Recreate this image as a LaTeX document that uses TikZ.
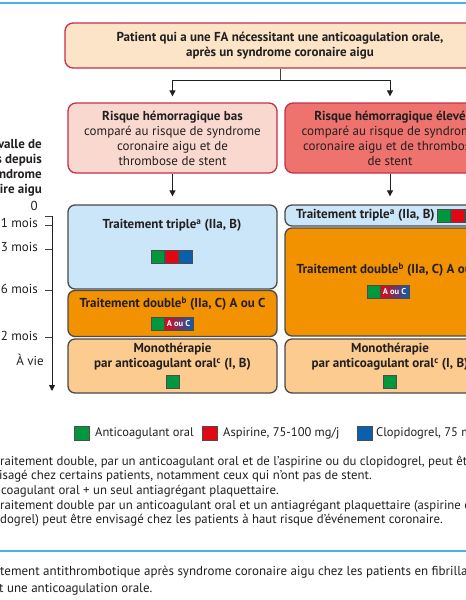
\documentclass[tikz,border=0pt]{standalone}
\usepackage{fontspec}
\setmainfont{PT Sans}
\usetikzlibrary{arrows.meta}
\definecolor{topfill}{HTML}{FCE4C8}
\definecolor{crimson}{HTML}{C5304A}
\definecolor{lowfill}{HTML}{F9D9CF}
\definecolor{highfill}{HTML}{EE736F}
\definecolor{trifill}{HTML}{CBE6F8}
\definecolor{dblfill}{HTML}{F39200}
\definecolor{monofill}{HTML}{FBCB8F}
\definecolor{sqgreen}{HTML}{00973F}
\definecolor{sqred}{HTML}{E30613}
\definecolor{sqblue}{HTML}{0B5FAF}
\definecolor{rule}{HTML}{45B3E6}
\definecolor{boxgrey}{HTML}{4A4A4A}
\definecolor{ink}{HTML}{231F20}
\newcommand\fsMain{\fontsize{13}{15}\selectfont}
\newcommand\fsNote{\fontsize{12.8}{14.5}\selectfont}
\newcommand\fsLeg{\fontsize{12.5}{14.5}\selectfont}
\newcommand\fsCap{\fontsize{13}{14.5}\selectfont}
\begin{document}
\begin{tikzpicture}[x=1pt,y=-1pt,
  every node/.style={text=ink},
  risk/.style={draw=crimson, line width=1.3pt, rounded corners=8pt, align=center, font=\fsMain, inner sep=0pt},
  tbox/.style={draw=boxgrey, line width=1.3pt, rounded corners=7pt, inner sep=0pt},
  txt/.style={inner sep=0pt, anchor=mid, font=\fsMain\bfseries},
  note/.style={inner sep=0pt, anchor=mid west, font=\fsNote},
  leg/.style={inner sep=0pt, anchor=mid west, font=\fsLeg},
  capt/.style={inner sep=0pt, anchor=mid west, font=\fsCap},
  axl/.style={inner sep=0pt, anchor=mid east, font=\fsMain},
  sq/.style={minimum size=13pt, inner sep=0pt, draw=black!70, line width=0.5pt},
  aouc/.style={minimum width=29pt, minimum height=13pt, inner sep=0pt, draw=black!70, line width=0.5pt,
     left color=sqred, right color=sqblue, text=white, font=\fontsize{8.5}{9}\selectfont\bfseries},
  arr/.style={draw=ink, line width=1pt, -{Triangle[length=6pt,width=6pt]}},
  conn/.style={draw=ink!85, line width=1pt},
  blueline/.style={draw=rule, line width=2.5pt}
]
\useasboundingbox (0,0) rectangle (466,600);
\clip (0,0) rectangle (466,600);
\fill[white] (0,0) rectangle (466,600);

% rules
\draw[blueline] (0,3) -- (466,3);
\draw[blueline] (0,551) -- (466,551);

% top box
\node[risk, fill=topfill, minimum width=430pt, minimum height=45pt, font=\fsMain\bfseries] (top) at (280,45.5)
  {Patient qui a une FA nécessitant une anticoagulation orale,\\après un syndrome coronaire aigu};

% risk boxes
\node[risk, fill=lowfill, minimum width=209pt, minimum height=70pt] (low) at (172.5,138)
  {{\bfseries Risque hémorragique bas}\\comparé au risque de syndrome\\coronaire aigu et de\\thrombose de stent};
\node[risk, fill=highfill, minimum width=210pt, minimum height=70pt] (high) at (390,138)
  {{\bfseries Risque hémorragique élevé}\\comparé au risque de syndrome\\coronaire aigu et de thrombose\\de stent};

% connectors top
\coordinate (j) at ([yshift=-12pt]top.south);
\draw[conn] (top.south) -- (j);
\draw[arr, shorten >=6pt] (j) -| (low.north);
\draw[arr, shorten >=6pt] (j) -| (high.north);

% treatment boxes
\node[tbox, fill=trifill, minimum width=209pt, minimum height=84pt] (tL) at (172.5,247) {};
\node[tbox, fill=dblfill, minimum width=209pt, minimum height=46pt] (dL) at (172.5,313.5) {};
\node[tbox, fill=monofill, minimum width=209pt, minimum height=54pt] (mL) at (172.5,366) {};
\node[tbox, fill=trifill, minimum width=210pt, minimum height=21pt] (tR) at (390,215.5) {};
\node[tbox, fill=dblfill, minimum width=210pt, minimum height=108pt] (dR) at (390,282) {};
\node[tbox, fill=monofill, minimum width=210pt, minimum height=54pt] (mR) at (390,366) {};

\draw[arr, shorten >=8pt] (low.south) -- (tL.north);
\draw[arr, shorten >=8pt] (high.south) -- (tR.north);

% left column contents
\node[txt] (tLt) at (172,226) {Traitement triple\textsuperscript{a} (IIa, B)};
\node[sq, fill=sqgreen] (tLg) at (157.5,256.5) {};
\node[sq, fill=sqred] (tLr) at (171.5,256.5) {};
\node[sq, fill=sqblue] (tLb) at (185.5,256.5) {};

\node[txt] (dLt) at (172.5,305) {Traitement double\textsuperscript{b} (IIa, C) A ou C};
\node[sq, fill=sqgreen] (dLg) at (157.5,323.5) {};
\node[aouc] (dLa) at (178.5,323.5) {A ou C};

\node[txt] (mLt1) at (172.5,350) {Monothérapie};
\node[txt] (mLt2) at (172.5,365) {par anticoagulant oral\textsuperscript{c} (I, B)};
\node[sq, fill=sqgreen] (mLg) at (172.5,381.5) {};

% right column contents
\node[txt, anchor=mid west] (tRt) at (296,216) {Traitement triple\textsuperscript{a} (IIa, B)};
\node[sq, fill=sqgreen] (tRg) at (443.5,215.5) {};
\node[sq, fill=sqred] (tRr) at (457.5,215.5) {};
\node[sq, fill=sqblue] (tRb) at (471.5,215.5) {};

\node[txt] (dRt) at (389.5,271) {Traitement double\textsuperscript{b} (IIa, C) A ou C};
\node[sq, fill=sqgreen] (dRg) at (373.5,291.5) {};
\node[aouc] (dRa) at (394.5,291.5) {A ou C};

\node[txt] (mRt1) at (390,350) {Monothérapie};
\node[txt] (mRt2) at (390,365) {par anticoagulant oral\textsuperscript{c} (I, B)};
\node[sq, fill=sqgreen] (mRg) at (390,381.5) {};

% time axis
\node[inner sep=0pt, anchor=east, align=right, font=\fsMain\bfseries] (axtitle) at (42,167.5)
  {Intervalle de\\temps depuis\\le syndrome\\coronaire aigu};
\coordinate (ax0) at (52,216);
\coordinate (axend) at (52,391);
\draw[arr] (ax0) -- (axend);
\coordinate (t0) at (52,216);
\coordinate (t1) at (52,225);
\coordinate (t3) at (52,249);
\coordinate (t6) at (52,290);
\coordinate (t12) at (52,337);
\foreach \t in {t0,t1,t3,t6,t12} \draw[conn] (\t) -- ++(-7,0);
\node[axl] (l0) at (38,208) {0};
\node[axl] (l1) at (38,225) {1 mois};
\node[axl] (l3) at (38,249) {3 mois};
\node[axl] (l6) at (38,291) {6 mois};
\node[axl] (l12) at (38,338) {12 mois};
\node[axl] (lv) at (44,363) {À vie};

% legend
\node[sq, minimum width=15pt, minimum height=14pt, fill=sqgreen] (kg) at (81.5,433.5) {};
\node[leg] (kgt) at (95,434) {Anticoagulant oral};
\node[sq, minimum width=15pt, minimum height=14pt, fill=sqred] (kr) at (209.5,433.5) {};
\node[leg] (krt) at (223,434) {Aspirine, 75-100 mg/j};
\node[sq, minimum width=15pt, minimum height=14pt, fill=sqblue] (kb) at (364.5,433.5) {};
\node[leg] (kbt) at (376,434) {Clopidogrel, 75 mg/j};

% footnotes
\node[note] (n1) at (0,463) {\llap{\textsuperscript{a} Un t}raitement double, par un anticoagulant oral et de l’aspirine ou du clopidogrel, peut être};
\node[note] (n2) at (-1,477) {\llap{env}isagé chez certains patients, notamment ceux qui n’ont pas de stent.};
\node[note] (n3) at (1,492) {\llap{\textsuperscript{b} Anti}coagulant oral + un seul antiagrégant plaquettaire.};
\node[note] (n4) at (0,507) {\llap{\textsuperscript{c} Un t}raitement double par un anticoagulant oral et un antiagrégant plaquettaire (aspirine ou};
\node[note] (n5) at (0,521) {\llap{clopi}dogrel) peut être envisagé chez les patients à haut risque d’événement coronaire.};

% caption
\node[capt] (c1) at (0,573) {\llap{Figure. Trai}tement antithrombotique après syndrome coronaire aigu chez les patients en fibrillation atriale};
\node[capt] (c2) at (-1,590) {\llap{nécessitan}t une anticoagulation orale.};
\end{tikzpicture}
\end{document}
